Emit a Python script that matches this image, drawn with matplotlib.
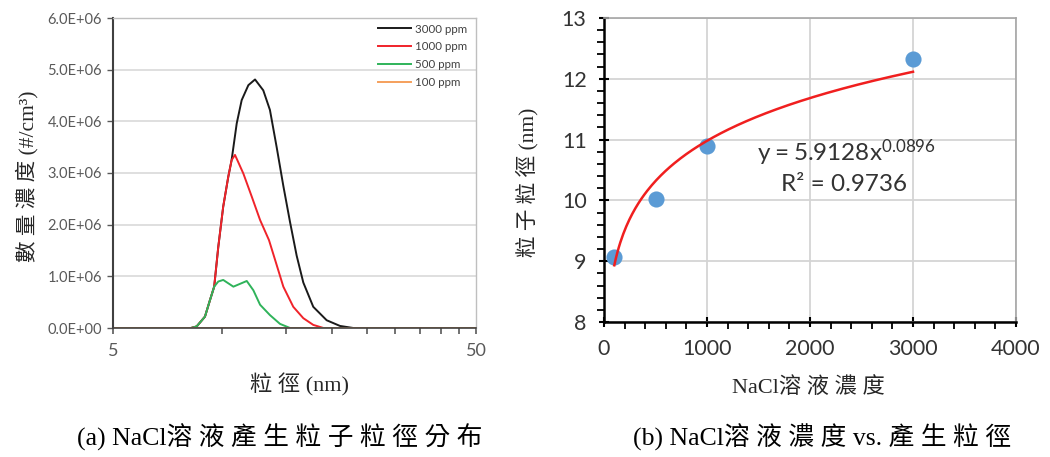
import numpy as np
import matplotlib
matplotlib.use("Agg")
import matplotlib.pyplot as plt
from matplotlib.ticker import FixedLocator, MultipleLocator

plt.rcParams['font.family'] = ['Lato', 'DejaVu Sans']
plt.rcParams['mathtext.fontset'] = 'custom'
plt.rcParams['mathtext.rm'] = 'Lato'

LABEL_FONT = ['Liberation Serif', 'Noto Sans CJK TC']

# (a) size distribution, diameter in nm, number conc in 1e6 #/cm3
d_3000 = [5, 8.2, 8.5, 8.96, 9.25, 9.5, 9.75, 10.06, 10.39, 10.61, 10.96, 11.31, 11.8, 12.31,
          12.97, 13.53, 14.12, 14.73, 15.37, 16.03, 16.72, 17.81, 19.39, 21.1, 22.96, 50]
n_3000 = [0, 0, 0.03, 0.22, 0.54, 0.80, 1.57, 2.35, 2.93, 3.25, 3.96, 4.41, 4.70, 4.81,
          4.60, 4.22, 3.50, 2.75, 2.05, 1.40, 0.88, 0.41, 0.15, 0.04, 0, 0]

d_1000 = [5, 8.2, 8.5, 8.96, 9.25, 9.5, 9.75, 10.06, 10.39, 10.61, 10.84, 11.43, 12.06, 12.71,
          13.45, 14.12, 14.73, 15.69, 16.72, 17.81, 19.0, 50]
n_1000 = [0, 0, 0.03, 0.22, 0.54, 0.80, 1.57, 2.35, 2.93, 3.25, 3.35, 2.99, 2.54, 2.09,
          1.70, 1.22, 0.80, 0.41, 0.19, 0.06, 0, 0]

d_500 = [5, 8.2, 8.5, 8.96, 9.25, 9.5, 9.75, 10.06, 10.73, 11.68, 12.18, 12.71, 13.53, 14.42, 15.37, 50]
n_500 = [0, 0, 0.03, 0.22, 0.54, 0.80, 0.90, 0.93, 0.80, 0.91, 0.73, 0.45, 0.25, 0.08, 0, 0]

d_100 = [5, 8, 10, 12, 14, 50]
n_100 = [0, 0, 0, 0, 0, 0]

series_a = [
    ("3000 ppm", d_3000, n_3000, "#1a1a1a"),
    ("1000 ppm", d_1000, n_1000, "#f0232a"),
    ("500 ppm", d_500, n_500, "#2fb35a"),
    ("100 ppm", d_100, n_100, "#f5a05c"),
]

# (b) mean diameter vs NaCl concentration
conc = [100, 500, 1000, 3000]
diam = [9.07, 10.03, 10.9, 12.32]
fit_a = 5.9128
fit_b = 0.0896
r2 = 0.9736


def plot_a(ax):
    for label, d, n, c in series_a:
        ax.plot(d, np.array(n) * 1e6, color=c, lw=1.4, label=label)
    ax.set_xscale('log')
    ax.set_xlim(5, 50)
    ax.set_ylim(0, 6e6)
    ticks = list(range(5, 55, 5))
    ax.xaxis.set_major_locator(FixedLocator(ticks))
    ax.xaxis.set_minor_locator(FixedLocator([]))
    ax.set_xticklabels(['5'] + [''] * (len(ticks) - 2) + ['50'])
    ax.set_yticks(np.arange(0, 7e6, 1e6))
    ax.set_yticklabels(['{:.1E}'.format(v) for v in np.arange(0, 7e6, 1e6)])
    ax.tick_params(axis='y', labelsize=10.5, colors='#595959', length=4, width=1, pad=4)
    ax.tick_params(axis='x', labelsize=13, colors='#595959', length=4, width=1.2, pad=7)
    ax.grid(axis='y', color='#d9d9d9', lw=1.2)
    ax.set_axisbelow(True)
    ax.spines['left'].set_color('#404040')
    ax.spines['left'].set_linewidth(1.5)
    ax.spines['bottom'].set_color('#404040')
    ax.spines['bottom'].set_linewidth(1.2)
    for s in ('top', 'right'):
        ax.spines[s].set_color('#bfbfbf')
        ax.spines[s].set_linewidth(1.0)
    leg = ax.legend(loc='upper right', bbox_to_anchor=(1.0, 1.012), frameon=False,
                    fontsize=8.3, handlelength=2.9, labelspacing=0.6, handletextpad=0.3,
                    borderaxespad=0.4)
    for t in leg.get_texts():
        t.set_color('#404040')


def plot_b(ax):
    xs = np.linspace(conc[0], conc[-1], 200)
    ax.scatter(conc, diam, s=135, color='#5b9bd5', zorder=3, linewidths=0)
    ax.plot(xs, fit_a * xs ** fit_b, color='#f01f1f', lw=1.8, zorder=4)
    ax.set_xlim(0, 4000)
    ax.set_ylim(8, 13)
    ax.xaxis.set_major_locator(MultipleLocator(1000))
    ax.xaxis.set_minor_locator(MultipleLocator(200))
    ax.yaxis.set_major_locator(MultipleLocator(1))
    ax.yaxis.set_minor_locator(MultipleLocator(0.2))
    ax.tick_params(which='major', labelsize=15.5, colors='#000000', labelcolor='#333333',
                   length=7, width=1.5, direction='inout')
    ax.tick_params(which='minor', length=5, width=1.3, direction='out', color='#000000')
    ax.tick_params(axis='x', pad=9)
    ax.tick_params(axis='y', pad=9)
    ax.grid(which='major', color='#d4d4d4', lw=1.3)
    ax.set_axisbelow(True)
    for s in ('left', 'bottom'):
        ax.spines[s].set_color('#000000')
        ax.spines[s].set_linewidth(1.8)
    for s in ('top', 'right'):
        ax.spines[s].set_color('#a6a6a6')
        ax.spines[s].set_linewidth(1.2)
    ax.text(2350, 10.78, r'$\mathregular{y = %.4fx^{%.4f}}$' % (fit_a, fit_b),
            fontsize=17.5, color='#333333', ha='center', va='center')
    ax.text(2330, 10.26, 'R² = %.4f' % r2, fontsize=17.5, color='#333333',
            ha='center', va='center')


fig = plt.figure(figsize=(10.5, 4.57), dpi=100)
ax1 = fig.add_axes([113 / 1050, 1 - 328 / 457, 363 / 1050, 310 / 457])
ax2 = fig.add_axes([604 / 1050, 1 - 322 / 457, 412 / 1050, 304 / 457])
plot_a(ax1)
plot_b(ax2)

W, H = 1050, 457
fig.text(27 / W, 1 - 176 / H, '數 量 濃 度 (#/cm³)', rotation=90, ha='center', va='center',
         fontsize=15.5, family=LABEL_FONT, color='#262626')
fig.text(300 / W, 1 - 385 / H, '粒 徑 (nm)', ha='center', va='center',
         fontsize=16, family=LABEL_FONT, color='#262626')
fig.text(527 / W, 1 - 182 / H, '粒 子 粒 徑 (nm)', rotation=90, ha='center', va='center',
         fontsize=15.5, family=LABEL_FONT, color='#262626')
fig.text(808 / W, 1 - 387 / H, 'NaCl溶 液 濃 度', ha='center', va='center',
         fontsize=16, family=LABEL_FONT, color='#262626')

fig.text(280 / W, 1 - 437 / H, '(a) NaCl溶 液 產 生 粒 子 粒 徑 分 布', ha='center', va='center',
         fontsize=18.5, family=LABEL_FONT, color='#000000')
fig.text(822 / W, 1 - 437 / H, '(b) NaCl溶 液 濃 度 vs. 產 生 粒 徑', ha='center', va='center',
         fontsize=18.5, family=LABEL_FONT, color='#000000')

fig.savefig('out.png', dpi=100)
